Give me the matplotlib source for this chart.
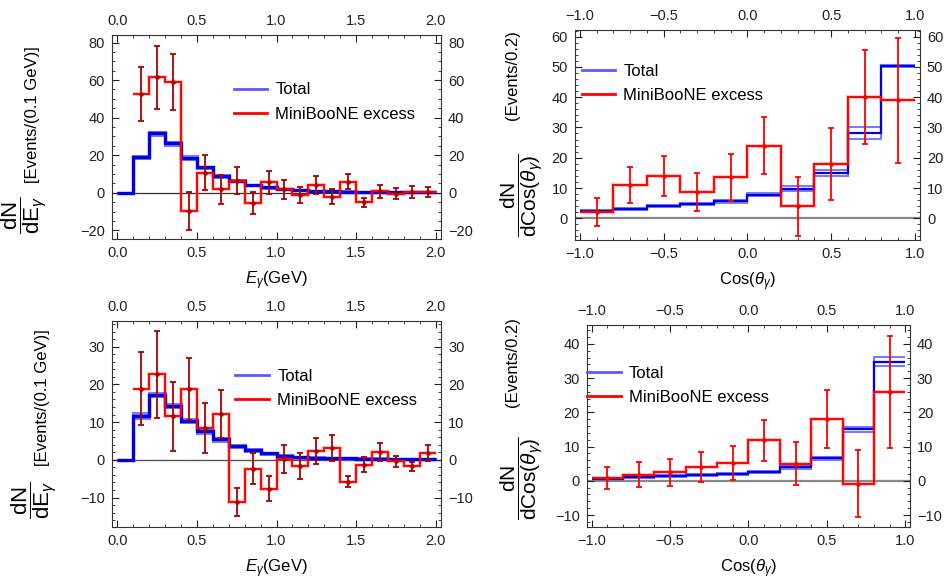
import numpy as np
import matplotlib
matplotlib.use('Agg')
import matplotlib.pyplot as plt
from matplotlib.lines import Line2D
from matplotlib.ticker import MultipleLocator

plt.rcParams['font.family'] = ['Liberation Sans', 'DejaVu Sans']
plt.rcParams['mathtext.fontset'] = 'custom'
plt.rcParams['mathtext.rm'] = 'Liberation Sans'
plt.rcParams['mathtext.it'] = 'Liberation Sans:italic'
plt.rcParams['mathtext.bf'] = 'Liberation Sans:bold'

# bins
e_edges = np.round(np.arange(0, 2.001, 0.1), 2)
c_edges = np.round(np.arange(-1, 1.001, 0.2), 2)

# arriba izquierda: energia
tl_total = [0, 19.0, 31.8, 26.5, 18.6, 13.5, 9.0, 6.4, 4.1, 2.9, 2.0, 1.5, 1.0, 0.8, 0.6, 0.5, 0.4, 0.3, 0.3, 0.2]
tl_total_lo = [0, 18.3, 31.0, 25.7, 17.9, 13.0, 8.6, 6.1, 3.9, 2.7, 1.9, 1.4, 0.9, 0.7, 0.5, 0.4, 0.3, 0.3, 0.2, 0.2]
tl_total_hi = [0, 19.6, 32.5, 27.3, 19.4, 14.0, 9.4, 6.7, 4.3, 3.1, 2.1, 1.6, 1.1, 0.9, 0.7, 0.6, 0.5, 0.4, 0.4, 0.3]
tl_excess = [52.7, 61.5, 58.9, -9.7, 10.8, 1.8, 6.4, -5.3, 5.5, 1.8, -1.2, 4.1, -2.0, 5.8, -5.1, 0.7, -0.5, 0.5, 0.3]
tl_err = [14.3, 16.9, 14.8, 10.2, 9.1, 7.7, 7.3, 5.9, 6.2, 4.9, 4.4, 4.7, 3.9, 4.0, 2.2, 3.2, 2.8, 3.2, 2.6]

# abajo izquierda: energia
bl_total = [0, 11.6, 17.2, 14.3, 10.4, 7.6, 5.4, 3.6, 2.6, 1.7, 1.1, 0.7, 0.6, 0.5, 0.4, 0.3, 0.3, 0.2, 0.2, 0.2]
bl_total_lo = [0, 11.0, 16.8, 13.9, 10.0, 7.2, 5.1, 3.4, 2.4, 1.6, 1.0, 0.6, 0.5, 0.4, 0.3, 0.3, 0.2, 0.2, 0.2, 0.1]
bl_total_hi = [0, 12.3, 17.6, 14.7, 10.8, 8.0, 5.7, 3.8, 2.8, 1.8, 1.2, 0.8, 0.7, 0.6, 0.5, 0.4, 0.4, 0.3, 0.3, 0.3]
bl_excess = [18.9, 22.7, 11.5, 18.7, 8.4, 12.2, -11.1, -2.3, -7.6, 0.2, -1.6, 2.3, 3.1, -5.8, -1.3, 2.1, -0.4, -1.7, 1.8]
bl_err = [9.6, 11.5, 9.2, 8.2, 6.7, 6.3, 3.7, 4.2, 3.3, 3.7, 3.4, 3.5, 3.5, 1.5, 2.0, 2.3, 1.4, 1.2, 2.0]

# arriba derecha: angulo
tr_total = [2.4, 3.1, 4.0, 4.7, 5.6, 7.7, 9.7, 15.0, 28.2, 50.3]
tr_total_lo = [2.1, 2.8, 3.7, 4.4, 5.2, 7.2, 8.9, 14.0, 26.2, 49.9]
tr_total_hi = [2.7, 3.4, 4.3, 5.0, 6.0, 8.2, 10.5, 16.0, 30.0, 50.7]
tr_excess = [2.0, 10.9, 14.0, 8.7, 13.5, 24.0, 3.9, 17.9, 40.1, 39.0]
tr_err = [4.7, 5.9, 6.6, 6.4, 7.8, 9.4, 9.6, 12.0, 15.5, 20.7]

# abajo derecha: angulo
br_total = [0.6, 1.0, 1.3, 1.6, 2.0, 2.7, 3.9, 6.6, 15.0, 34.8]
br_total_lo = [0.4, 0.7, 1.0, 1.3, 1.7, 2.4, 3.5, 6.2, 14.2, 33.5]
br_total_hi = [0.8, 1.3, 1.6, 1.9, 2.3, 3.0, 4.3, 7.0, 15.8, 36.3]
br_excess = [0.8, 1.8, 2.5, 4.0, 5.2, 11.8, 5.0, 18.0, -0.8, 26.0]
br_err = [3.2, 3.6, 4.0, 4.4, 4.9, 6.0, 6.3, 8.4, 9.7, 16.3]

fig = plt.figure(figsize=(9.46, 5.87), dpi=100)

ax_tl = fig.add_axes([0.1184, 0.5928, 0.3478, 0.3476])
ax_tr = fig.add_axes([0.6078, 0.5910, 0.3647, 0.3580])
ax_bl = fig.add_axes([0.1184, 0.1022, 0.3478, 0.3510])
ax_br = fig.add_axes([0.6205, 0.1022, 0.3414, 0.3440])


def panel(ax, edges, tot, lo, hi, exc, err, ecolor, zcolor, zlw, thick):
    # linea del cero
    ax.axhline(0, color=zcolor, lw=zlw, zorder=1)
    # total (banda)
    blw = 2.2 if thick else 1.5
    ax.stairs(lo, edges, baseline=None, color='#5a5aff', lw=blw, alpha=0.8, zorder=2)
    ax.stairs(hi, edges, baseline=None, color='#5a5aff', lw=blw, alpha=0.8, zorder=2)
    ax.stairs(tot, edges, baseline=None, color='#0000e0', lw=2.4 if thick else 1.6, zorder=3)
    # exceso MiniBooNE
    exc_edges = edges[len(edges) - len(exc) - 1:]
    ax.stairs(exc, exc_edges, baseline=None, color='#ff0000', lw=3.0, alpha=0.22, zorder=4)
    ax.stairs(exc, exc_edges, baseline=None, color='#ff0000', lw=1.4, zorder=4)
    centers = (exc_edges[:-1] + exc_edges[1:]) / 2
    ax.errorbar(centers, exc, yerr=err, fmt='o', ms=2.3, color=ecolor, ecolor=ecolor,
                elinewidth=1.3, capsize=2.3, capthick=1.3, zorder=5)
    ax.tick_params(which='both', direction='in', top=True, right=True,
                   labeltop=True, labelright=True, labelsize=10.5, colors='#222222')
    ax.tick_params(which='major', length=5, width=0.8, pad=5)
    ax.tick_params(which='minor', length=2.5, width=0.6)
    for s in ax.spines.values():
        s.set_color('#333333')
        s.set_linewidth(0.8)
    ax.xaxis.set_major_locator(MultipleLocator(0.5))
    ax.xaxis.set_minor_locator(MultipleLocator(0.1))


panel(ax_tl, e_edges, tl_total, tl_total_lo, tl_total_hi, tl_excess, tl_err, '#aa0000', '#333333', 0.9, True)
panel(ax_bl, e_edges, bl_total, bl_total_lo, bl_total_hi, bl_excess, bl_err, '#aa0000', '#555555', 1.0, True)
panel(ax_tr, c_edges, tr_total, tr_total_lo, tr_total_hi, tr_excess, tr_err, '#ff0000', '#888888', 1.6, False)
panel(ax_br, c_edges, br_total, br_total_lo, br_total_hi, br_excess, br_err, '#ff0000', '#888888', 1.6, False)

ax_tl.set_xlim(-0.033, 2.033)
ax_tl.set_ylim(-24.6, 84)
ax_tl.yaxis.set_major_locator(MultipleLocator(20))
ax_tl.yaxis.set_minor_locator(MultipleLocator(5))

ax_bl.set_xlim(-0.033, 2.033)
ax_bl.set_ylim(-17.8, 36.8)
ax_bl.yaxis.set_major_locator(MultipleLocator(10))
ax_bl.yaxis.set_minor_locator(MultipleLocator(2))

ax_tr.set_xlim(-1.03, 1.03)
ax_tr.set_ylim(-7.2, 62.2)
ax_tr.yaxis.set_major_locator(MultipleLocator(10))
ax_tr.yaxis.set_minor_locator(MultipleLocator(2))

ax_br.set_xlim(-1.03, 1.03)
ax_br.set_ylim(-13.5, 45.5)
ax_br.yaxis.set_major_locator(MultipleLocator(10))
ax_br.yaxis.set_minor_locator(MultipleLocator(2))

# leyendas
handles = [Line2D([], [], color='#5a5aff', lw=2.0), Line2D([], [], color='#ff0000', lw=2.0)]
labels = ['Total', 'MiniBooNE excess']
for ax, x0, y0 in [(ax_tl, 0.35, 0.80), (ax_bl, 0.355, 0.80), (ax_tr, 0.0, 0.87), (ax_br, -0.02, 0.83)]:
    ax.legend(handles, labels, loc='upper left', bbox_to_anchor=(x0, y0), frameon=False,
              fontsize=12, handlelength=2.0, handletextpad=0.5, labelspacing=0.55, borderaxespad=0)

# etiquetas x
for ax in (ax_tl, ax_bl):
    ax.set_xlabel(r'$E_\gamma$(GeV)', fontsize=12, labelpad=7)
for ax in (ax_tr, ax_br):
    ax.set_xlabel(r'Cos($\theta_\gamma$)', fontsize=12, labelpad=7)

# etiquetas y
frac_e = r'$\dfrac{\mathrm{dN}}{\mathrm{dE}_\gamma}$'
frac_c = r'$\dfrac{\mathrm{dN}}{\mathrm{dCos}(\theta_\gamma)}$'
fig.text(24 / 946, 1 - 215 / 587, frac_e, rotation=90, ha='center', va='center', fontsize=16)
fig.text(33 / 946, 1 - 115 / 587, '[Events/(0.1 GeV)]', rotation=90, ha='center', va='center', fontsize=12)
fig.text(34 / 946, 1 - 500 / 587, frac_e, rotation=90, ha='center', va='center', fontsize=16)
fig.text(43 / 946, 1 - 398 / 587, '[Events/(0.1 GeV)]', rotation=90, ha='center', va='center', fontsize=12)
fig.text(522 / 946, 1 - 195 / 587, frac_c, rotation=90, ha='center', va='center', fontsize=15)
fig.text(512 / 946, 1 - 75 / 587, '(Events/0.2)', rotation=90, ha='center', va='center', fontsize=12)
fig.text(522 / 946, 1 - 478 / 587, frac_c, rotation=90, ha='center', va='center', fontsize=15)
fig.text(512 / 946, 1 - 362 / 587, '(Events/0.2)', rotation=90, ha='center', va='center', fontsize=12)

fig.savefig('out.png', dpi=100)
